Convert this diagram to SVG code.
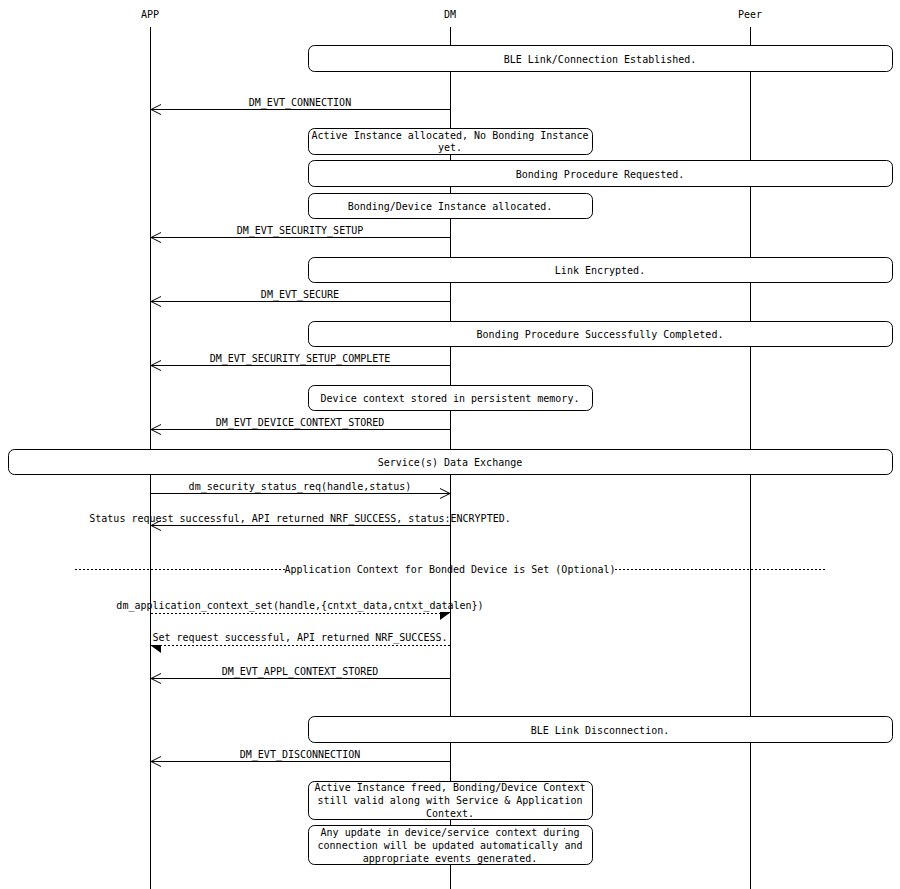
<svg xmlns="http://www.w3.org/2000/svg" width="900" height="889" viewBox="0 0 900 889">
<style>
text{font-family:"DejaVu Sans Mono","Liberation Mono",monospace;font-size:10px;fill:#000;text-anchor:middle}
.life{stroke:#000;stroke-width:1}
.box{fill:#fff;stroke:#000;stroke-width:1}
.msg{stroke:#000;stroke-width:1;fill:none}
.dot{stroke:#000;stroke-width:1;fill:none;stroke-dasharray:2,2}
.head{fill:#000;stroke:none}
.open{stroke:#000;stroke-width:1;fill:none}
</style>
<rect width="900" height="889" fill="#fff"/>
<g id="lifelines">
<g id="APP"><text x="150" y="18">APP</text><line class="life" x1="150.5" y1="27" x2="150.5" y2="889"/></g>
<g id="DM"><text x="450" y="18">DM</text><line class="life" x1="450.5" y1="27" x2="450.5" y2="889"/></g>
<g id="Peer"><text x="750" y="18">Peer</text><line class="life" x1="750.5" y1="27" x2="750.5" y2="889"/></g>
</g>
<g id="boxes">
<g id="n1"><rect class="box" x="308.5" y="45.5" width="584" height="26" rx="6"/><text x="600" y="63">BLE Link/Connection Established.</text></g>
<g id="n2"><rect class="box" x="308.5" y="128.5" width="284" height="26" rx="6"/><text x="450" y="139">Active Instance allocated, No Bonding Instance</text><text x="450" y="151">yet.</text></g>
<g id="n3"><rect class="box" x="308.5" y="160.5" width="584" height="26" rx="6"/><text x="600" y="178">Bonding Procedure Requested.</text></g>
<g id="n4"><rect class="box" x="308.5" y="193.5" width="284" height="25" rx="6"/><text x="450" y="210">Bonding/Device Instance allocated.</text></g>
<g id="n5"><rect class="box" x="308.5" y="257.5" width="584" height="25" rx="6"/><text x="600" y="274">Link Encrypted.</text></g>
<g id="n6"><rect class="box" x="308.5" y="321.5" width="584" height="25" rx="6"/><text x="600" y="338">Bonding Procedure Successfully Completed.</text></g>
<g id="n7"><rect class="box" x="308.5" y="385.5" width="284" height="25" rx="6"/><text x="450" y="402">Device context stored in persistent memory.</text></g>
<g id="n8"><rect class="box" x="8.5" y="449.5" width="884" height="25" rx="6"/><text x="450" y="466">Service(s) Data Exchange</text></g>
<g id="n9"><rect class="box" x="308.5" y="716.5" width="584" height="26" rx="6"/><text x="600" y="734">BLE Link Disconnection.</text></g>
<g id="n10"><rect class="box" x="308.5" y="781.5" width="284" height="38" rx="6"/><text x="450" y="791">Active Instance freed, Bonding/Device Context</text><text x="450" y="804">still valid along with Service &amp; Application</text><text x="450" y="817">Context.</text></g>
<g id="n11"><rect class="box" x="308.5" y="825.5" width="284" height="39" rx="6"/><text x="450" y="836">Any update in device/service context during</text><text x="450" y="849">connection will be updated automatically and</text><text x="450" y="862">appropriate events generated.</text></g>
</g>
<g id="connectors">
<g><line class="msg" x1="450" y1="109.5" x2="151" y2="109.5"/><polyline class="open" points="161,104.5 151,109.5 161,114.5"/><text x="300" y="106">DM_EVT_CONNECTION</text></g>
<g><line class="msg" x1="450" y1="237.5" x2="151" y2="237.5"/><polyline class="open" points="161,232.5 151,237.5 161,242.5"/><text x="300" y="234">DM_EVT_SECURITY_SETUP</text></g>
<g><line class="msg" x1="450" y1="301.5" x2="151" y2="301.5"/><polyline class="open" points="161,296.5 151,301.5 161,306.5"/><text x="300" y="298">DM_EVT_SECURE</text></g>
<g><line class="msg" x1="450" y1="365.5" x2="151" y2="365.5"/><polyline class="open" points="161,360.5 151,365.5 161,370.5"/><text x="300" y="362">DM_EVT_SECURITY_SETUP_COMPLETE</text></g>
<g><line class="msg" x1="450" y1="429.5" x2="151" y2="429.5"/><polyline class="open" points="161,424.5 151,429.5 161,434.5"/><text x="300" y="426">DM_EVT_DEVICE_CONTEXT_STORED</text></g>
<g><line class="msg" x1="151" y1="493.5" x2="450" y2="493.5"/><polyline class="open" points="440,488.5 450,493.5 440,498.5"/><text x="300" y="490">dm_security_status_req(handle,status)</text></g>
<g><line class="msg" x1="450" y1="525.5" x2="151" y2="525.5"/><polyline class="open" points="161,520.5 151,525.5 161,530.5"/><text x="300" y="522">Status request successful, API returned NRF_SUCCESS, status:ENCRYPTED.</text></g>
<g><line class="dot" x1="75" y1="569.5" x2="285" y2="569.5"/><line class="dot" x1="615" y1="569.5" x2="825" y2="569.5"/><text x="450" y="573">Application Context for Bonded Device is Set (Optional)</text></g>
<g><line class="dot" x1="151" y1="613.5" x2="450" y2="613.5"/><polygon class="head" points="451,612 440,612 440,620"/><text x="300" y="609">dm_application_context_set(handle,{cntxt_data,cntxt_datalen})</text></g>
<g><line class="dot" x1="450" y1="645.5" x2="151" y2="645.5"/><polygon class="head" points="150,645 161,645 161,653"/><text x="300" y="641">Set request successful, API returned NRF_SUCCESS.</text></g>
<g><line class="msg" x1="450" y1="678.5" x2="151" y2="678.5"/><polyline class="open" points="161,673.5 151,678.5 161,683.5"/><text x="300" y="675">DM_EVT_APPL_CONTEXT_STORED</text></g>
<g><line class="msg" x1="450" y1="761.5" x2="151" y2="761.5"/><polyline class="open" points="161,756.5 151,761.5 161,766.5"/><text x="300" y="758">DM_EVT_DISCONNECTION</text></g>
</g>
</svg>
